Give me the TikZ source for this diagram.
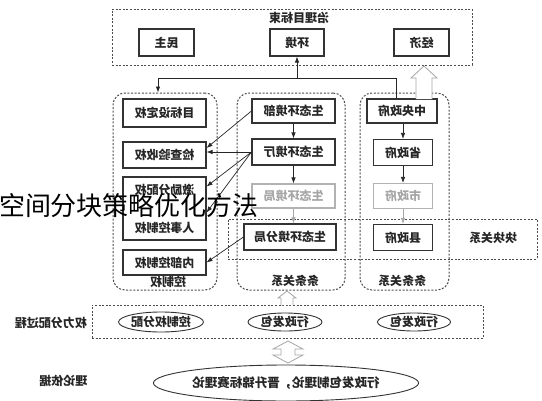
\documentclass[tikz,border=0pt]{standalone}
\usepackage{fontspec}
\setmainfont{Noto Sans CJK SC}
\usetikzlibrary{arrows.meta,shapes.geometric}
\newcommand{\fl}[1]{\reflectbox{#1}}
% hollow up arrow: x, bottom, top, shaft half, head half, head length
\newcommand{\hollowup}[6]{%
	\draw[hollow] ({#1-#4},#2) -- ({#1-#4},{#3+#6}) -- ({#1-#5},{#3+#6}) -- (#1,#3)
		-- ({#1+#5},{#3+#6}) -- ({#1+#4},{#3+#6}) -- ({#1+#4},#2);}
\tikzset{
	box/.style={draw=black!80,line width=1.1pt,minimum height=26pt,inner sep=0pt,text=black!85},
	faint/.style={draw=black!30,text=black!35},
	grp/.style={draw=black!70,line width=1pt,dash pattern=on 2pt off 1.6pt,inner sep=0pt},
	arr/.style={-{Latex[length=6pt,width=4.5pt]},line width=0.7pt,black!85},
	oval/.style={ellipse,draw=black!80,line width=0.9pt,inner sep=0pt,text=black!85},
	hollow/.style={draw=black!35,line width=0.8pt,fill=white},
}
\begin{document}
\begin{tikzpicture}[x=1pt,y=-1pt,font=\fontsize{12}{14}\selectfont\bfseries]
	\useasboundingbox (0,0) rectangle (542,400);
	% Goal bundle
	\node[grp,minimum width=360pt,minimum height=56pt] (goal) at (292,37) {};
	\node[text=black!85] (goaltitle) at (299,18) {\fl{治理目标束}};
	\node[box,minimum width=55pt,minimum height=27pt] (ms) at (166.5,42.5) {\fl{民主}};
	\node[box,minimum width=54pt,minimum height=27pt] (hj) at (297,42.5) {\fl{环境}};
	\node[box,minimum width=55pt,minimum height=27pt] (jj) at (421.5,42.5) {\fl{经济}};
	% Groups
	\node[grp,rounded corners=12pt,minimum width=104pt,minimum height=197pt] (kz) at (165,191.5) {};
	\node[grp,rounded corners=12pt,minimum width=108pt,minimum height=197pt] (ttm) at (291,191.5) {};
	\node[grp,rounded corners=12pt,minimum width=89pt,minimum height=197pt] (ttr) at (404.5,191.5) {};
	\node[grp,minimum width=309pt,minimum height=40pt] (kk) at (382.5,239) {};
	\node[text=black!85] (kzlab) at (168,282) {\fl{控制权}};
	\node[text=black!85] (ttmlab) at (295,281) {\fl{条条关系}};
	\node[text=black!85] (ttrlab) at (402,281) {\fl{条条关系}};
	\node[text=black!85] (kklab) at (493,238) {\fl{块块关系}};
	% Control rights
	\node[box,minimum width=83pt,minimum height=28pt] (mb) at (164.5,113) {\fl{目标设定权}};
	\node[box,minimum width=83pt] (jc) at (164.5,155) {\fl{检查验收权}};
	\node[box,minimum width=83pt,minimum height=63pt,align=center] (jl) at (164.5,208.5)
		{\fl{激励分配权}\\[24pt]\fl{人事控制权}};
	\node[box,minimum width=83pt,minimum height=25pt] (nb) at (164.5,262.5) {\fl{内部控制权}};
	% Environment line
	\node[box,minimum width=83pt,minimum height=24pt] (stb) at (293.5,111) {\fl{生态环境部}};
	\node[box,minimum width=83pt] (stt) at (293.5,152) {\fl{生态环境厅}};
	\node[box,faint,minimum width=83pt,minimum height=24pt] (stj) at (293.5,196) {\fl{生态环境局}};
	\node[box,minimum width=92pt] (stf) at (290,237) {\fl{生态环境分局}};
	% Government line
	\node[box,minimum width=70pt,minimum height=24pt] (zy) at (402,111) {\fl{中央政府}};
	\node[box,minimum width=59pt] (sz) at (403,152.5) {\fl{省政府}};
	\node[box,faint,minimum width=59pt,minimum height=25pt] (sh) at (403,196) {\fl{市政府}};
	\node[box,minimum width=59pt] (xz) at (403,237.5) {\fl{县政府}};
	% Process and theory
	\node[grp,minimum width=391pt,minimum height=33pt] (gc) at (287.5,321.5) {};
	\node[text=black!85] (gclab) at (51,323) {\fl{权力分配过程}};
	\node[text=black!85] (lllab) at (63.5,381) {\fl{理论依据}};
	\node[oval,minimum width=79pt,minimum height=20pt] (kzfp) at (161,322) {\fl{控制权分配}};
	\node[oval,minimum width=74pt,minimum height=18pt] (xz1) at (285,322) {\fl{行政发包}};
	\node[oval,minimum width=73pt,minimum height=18pt] (xz2) at (414,322) {\fl{行政发包}};
	\node[oval,minimum width=224pt,minimum height=36pt,font=\fontsize{12.5}{14}\selectfont\bfseries] (ll) at (286,383)
		{\fl{行政发包制理论，晋升锦标赛理论}};
	% Connectors
	\coordinate (split) at (297,78);
	\draw[line width=0.7pt,black!85] ([xshift=-6pt]zy.north) |- (split);
	\draw[arr] (split) -- (hj.south);
	\draw[arr] (split) -| ([xshift=-7pt]kz.north);
	\draw[arr] (stb.south) -- (stt.north);
	\draw[arr] (stt.south) -- (stj.north);
	\draw[arr,black!35] (stj.south) -- (stj.south |- stf.north);
	\draw[arr] (zy.south -| sz.north) -- (sz.north);
	\draw[arr] (sz.south) -- (sh.north);
	\draw[arr,black!35] (sh.south) -- (xz.north);
	\draw[arr] (stb.west) -- ([yshift=7pt]jc.east);
	\draw[arr] (stt.west) -- (stt.west -| jc.east);
	\draw[arr] (stt.west) -- ([yshift=22pt]jl.east);
	\draw[arr] (stt.west) -- ([yshift=-4pt]jl.east);
	\draw[arr] (stf.west) -- (nb.east);
	% Hollow arrows
	\hollowup{424}{99}{66}{8}{13}{12}
	\hollowup{287}{305}{291}{6}{9}{7}
	\draw[hollow] (288,341) -- (303,349) -- (295,349) -- (295,355) -- (303,355) -- (288,363)
		-- (273,355) -- (281,355) -- (281,349) -- (273,349) -- cycle;
	% Overlay caption
	\node[font=\fontsize{26}{28}\selectfont\mdseries] (wm) at (129,206) {空间分块策略优化方法};
\end{tikzpicture}
\end{document}
